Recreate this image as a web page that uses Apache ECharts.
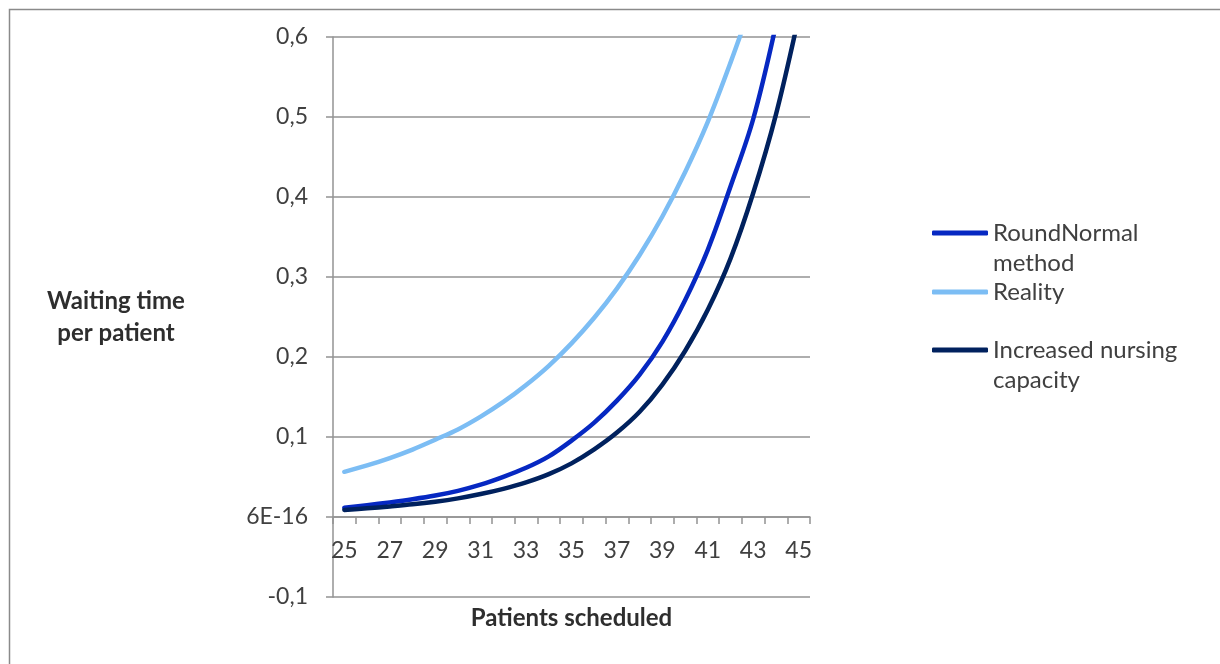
<!DOCTYPE html>
<html>
<head>
<meta charset="utf-8">
<title>Waiting time per patient</title>
<script src="https://cdn.jsdelivr.net/npm/echarts@6/dist/echarts.min.js"></script>
<style>
  html, body { margin: 0; padding: 0; background: #ffffff; }
  #chart { width: 1220px; height: 664px; }
</style>
</head>
<body>
<div id="chart"></div>
<script>
// Patients scheduled per session (x categories)
const patients = ['25','26','27','28','29','30','31','32','33','34','35','36','37','38','39','40','41','42','43','44','45'];

// Waiting time per patient for each scenario (null = off the top of the scale)
const roundNormal = [0.0115, 0.0148, 0.0183, 0.0222, 0.0268, 0.0327, 0.0404, 0.0502, 0.0615, 0.0758,
                     0.0955, 0.118, 0.1455, 0.178, 0.219, 0.271, 0.334, 0.413, 0.4975, 0.615, null];
const reality     = [0.0565, 0.0645, 0.0737, 0.0843, 0.0966, 0.1095, 0.1255, 0.1438, 0.165, 0.189,
                     0.217, 0.249, 0.2855, 0.3275, 0.3756, 0.431, 0.494, 0.568, 0.648, null, null];
const increased   = [0.0088, 0.0108, 0.0132, 0.0158, 0.0191, 0.0233, 0.0287, 0.0352, 0.0432, 0.0535,
                     0.067, 0.0845, 0.1055, 0.1315, 0.1655, 0.2075, 0.259, 0.323, 0.405, 0.503, 0.625];

// Value-axis tick labels as printed on the chart
const yTickLabels = { '-0.1': '-0,1', '0': '6E-16', '0.1': '0,1', '0.2': '0,2', '0.3': '0,3', '0.4': '0,4', '0.5': '0,5', '0.6': '0,6' };

const FONT = 'Lato, "Open Sans", sans-serif';
const TEXT = '#404040';
const TITLE = '#2e2e2e';
const GRID = '#939393';

const chart = echarts.init(document.getElementById('chart'), null, { renderer: 'canvas' });

// One legend block per series so each entry sits at its own height,
// with the marker level with the first line of its label.
function legendFor(name, top) {
  return {
    orient: 'vertical',
    left: 932,
    top: top,
    padding: 0,
    itemWidth: 56,
    itemHeight: 5,
    icon: 'roundRect',
    selectedMode: false,
    data: [name],
    formatter: function (n) {
      if (n === 'RoundNormal method') return ' \nRoundNormal\nmethod';
      if (n === 'Increased nursing capacity') return ' \nIncreased nursing\ncapacity';
      return n;
    },
    textStyle: { fontFamily: FONT, fontSize: 24, color: TEXT, lineHeight: 30, padding: 0 }
  };
}

chart.setOption({
  animation: false,
  backgroundColor: '#ffffff',
  graphic: [{
    type: 'rect',
    left: 7, top: 7,
    shape: { width: 1400, height: 800 },
    style: { fill: 'none', stroke: '#8a8a8a', lineWidth: 1.5 },
    silent: true
  }],
  grid: { left: 333, right: 410, top: 37, bottom: 67, containLabel: false, outerBoundsMode: 'none' },
  legend: [
    legendFor('RoundNormal method', 188),
    legendFor('Reality', 277),
    legendFor('Increased nursing capacity', 305)
  ],
  xAxis: {
    type: 'category',
    data: patients,
    boundaryGap: true,
    name: 'Patients scheduled',
    nameLocation: 'middle',
    nameGap: 9,
    nameTextStyle: { fontFamily: FONT, fontSize: 24, fontWeight: 'bold', color: TITLE },
    axisLine: { onZero: true, lineStyle: { color: GRID, width: 1.5 } },
    axisTick: { show: true, interval: 0, length: 7, lineStyle: { color: GRID, width: 1.5 } },
    axisLabel: { interval: 1, margin: -58, fontFamily: FONT, fontSize: 23, color: TEXT },
    splitLine: { show: false }
  },
  yAxis: {
    type: 'value',
    min: -0.1,
    max: 0.6,
    interval: 0.1,
    name: 'Waiting time\nper patient',
    nameLocation: 'middle',
    nameRotate: 0,
    nameGap: 217,
    nameTextStyle: { fontFamily: FONT, fontSize: 24, fontWeight: 'bold', color: TITLE, align: 'center', verticalAlign: 'middle', lineHeight: 32 },
    axisLine: { show: true, lineStyle: { color: GRID, width: 1.5 } },
    axisTick: { show: true, length: 7, lineStyle: { color: GRID, width: 1.5 } },
    axisLabel: {
      margin: 25,
      fontFamily: FONT, fontSize: 23, color: TEXT,
      formatter: function (v) {
        const key = String(Math.round(v * 10) / 10);
        return yTickLabels[key] !== undefined ? yTickLabels[key] : key.replace('.', ',');
      }
    },
    splitLine: { show: true, lineStyle: { color: GRID, width: 1.5 } }
  },
  series: [
    {
      name: 'RoundNormal method', type: 'line', data: roundNormal,
      smooth: 0.35, symbol: 'none', clip: true,
      lineStyle: { color: '#0628c2', width: 4.5, cap: 'round', join: 'round' },
      itemStyle: { color: '#0628c2' }
    },
    {
      name: 'Reality', type: 'line', data: reality,
      smooth: 0.35, symbol: 'none', clip: true,
      lineStyle: { color: '#7cbdf4', width: 4.5, cap: 'round', join: 'round' },
      itemStyle: { color: '#7cbdf4' }
    },
    {
      name: 'Increased nursing capacity', type: 'line', data: increased,
      smooth: 0.35, symbol: 'none', clip: true,
      lineStyle: { color: '#00215e', width: 4.5, cap: 'round', join: 'round' },
      itemStyle: { color: '#00215e' }
    }
  ]
});
</script>
</body>
</html>
